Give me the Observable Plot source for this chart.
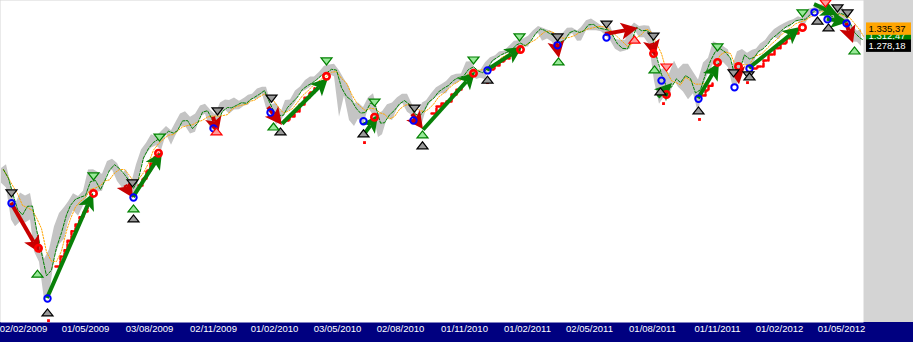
<!DOCTYPE html>
<html><head><meta charset="utf-8">
<script src="https://cdn.jsdelivr.net/npm/d3@7"></script>
<script src="https://cdn.jsdelivr.net/npm/@observablehq/plot@0.6"></script>
<style>
html,body{margin:0;padding:0;background:#fff;}
#chart svg{display:block;font-family:"Liberation Sans",Arial,sans-serif;background:linear-gradient(to bottom,#d4d4d4 0,#d4d4d4 322px,#000080 322px,#000080 342px);}
</style></head><body><div id="chart"></div>
<script>
// weekly bars (trading-day index of each week's last session)
const wkIdx = [0,5,10,14,19,24,29,33,38,43,48,53,58,63,67,72,77,82,87,92,97,101,106,111,116,121,125,130,135,140,145,150,155,160,165,170,174,179,184,189,194,199,204,209,214,219,224,228,233,238,243,247,251,
256,261,265,270,275,280,284,289,294,299,304,309,313,318,323,328,333,338,343,348,353,357,362,367,372,377,381,386,391,396,401,406,411,416,421,425,430,435,440,445,450,455,460,465,470,475,479,484,489,494,498,503,
508,513,517,522,527,532,537,541,546,551,556,561,566,571,576,580,585,590,595,600,605,609,614,619,624,629,633,638,643,648,653,658,663,668,673,677,682,687,692,697,702,707,712,717,722,727,731,736,741,746,751,755,
759,764,768,773,778,783,788,792,797,802,807,812,817,821,826,831,836,841,846,851,856,860];
const wkLow = [899,888,818,804,814,812,818,754,734,667,672,742,768,779,814,838,826,848,875,878,879,881,920,930,903,888,895,869,875,940,968,984,990,978,1019,991,1014,1038,1041,1020,1025,1066,1073,1033,1029,1072,1085,1073,1085,1086,1096,1098,1114,
1116,1130,1090,1071,1045,1056,1075,1086,1105,1134,1141,1150,1165,1175,1190,1188,1182,1065,1125,1056,1040,1060,1042,1090,1070,1011,1018,1062,1056,1088,1105,1079,1069,1040,1049,1088,1108,1122,1131,1131,1156,1160,1171,1180,1194,1173,1177,1173,1221,1232,1245,1250,
1257,1262,1275,1276,1275,1310,1320,1294,1302,1291,1249,1280,1305,1320,1294,1295,1330,1330,1330,1326,1311,1296,1268,1258,1262,1269,1334,1306,1306,1282,1168,1101,1122,1121,1170,1150,1136,1114,1131,1075,1155,1191,1220,1215,1226,1209,1158,1158,1231,1209,1202,1248,
1258,1275,1290,1307,1300,1337,1340,1357,1363,1340,1370,1388,1391,1397,1357,1357,1358,1367,1343,1292,1291,1277];
const wkHigh = [934,943,891,852,877,870,876,827,779,740,758,804,832,845,857,875,869,881,930,931,924,920,951,956,946,922,931,898,943,979,996,1018,1013,1027,1040,1029,1049,1074,1080,1065,1073,1096,1101,1085,1072,1105,1113,1112,1119,1110,1118,1127,1130,
1145,1150,1150,1100,1104,1081,1112,1113,1139,1151,1170,1181,1181,1195,1214,1218,1220,1200,1173,1150,1104,1105,1092,1120,1131,1075,1080,1100,1105,1120,1130,1130,1100,1070,1105,1111,1131,1149,1158,1167,1184,1189,1190,1227,1228,1200,1200,1225,1241,1247,1259,1262,
1278,1294,1296,1302,1311,1330,1344,1339,1332,1326,1301,1319,1338,1339,1329,1341,1364,1370,1359,1347,1334,1346,1300,1298,1298,1341,1356,1344,1347,1345,1307,1199,1208,1190,1230,1205,1220,1220,1195,1172,1224,1239,1293,1285,1277,1266,1213,1260,1267,1255,1265,1269,
1285,1297,1315,1334,1345,1355,1363,1368,1378,1372,1405,1409,1420,1422,1395,1392,1406,1415,1373,1345,1328,1335];
const wkClose = [931,890,850,832,826,869,827,770,735,683,756,768,816,842,857,869,866,877,929,882,887,919,940,946,921,918,896,879,940,979,987,1010,1004,1026,1029,1016,1042,1068,1044,1025,1071,1087,1079,1036,1069,1093,1091,1091,1105,1106,1102,1127,1115,
1145,1136,1091,1074,1066,1075,1109,1105,1138,1150,1160,1167,1178,1194,1192,1217,1187,1111,1136,1088,1089,1064,1092,1117,1076,1022,1078,1065,1103,1101,1122,1079,1071,1065,1104,1110,1125,1148,1146,1165,1176,1183,1183,1225,1199,1199,1189,1224,1240,1244,1257,1258,
1272,1293,1283,1276,1310,1329,1343,1320,1321,1304,1279,1314,1332,1328,1320,1337,1363,1340,1338,1333,1331,1300,1271,1271,1268,1339,1344,1316,1345,1292,1199,1179,1124,1177,1174,1154,1216,1136,1131,1155,1224,1238,1285,1253,1263,1216,1159,1244,1255,1219,1265,1258,
1278,1289,1315,1316,1345,1343,1361,1366,1370,1370,1404,1397,1408,1398,1370,1379,1403,1369,1353,1295,1318,1278];

// trailing stop (red dashes)
const stopGroup = ["A","A","A","A","A","A","A","A","A","B","B","B","B","B","B","C","C","C","C","C","C","C","D","D","D","D","D","D","D","E","E","E","E","E","E","E","F","F","F","F","G","G","G","G","G","G","G","G","G"];
const stopIdx = [52,57,61,64,68,72,76,80,84, 135,139,143,147,151,155, 281,286,291,296,301,306,311, 428,433,438,443,448,453,458, 486,491,496,501,506,511,516, 699,702,705,709, 749,754,760,765,771,777,783,789,795];
const stopValue = [726,745,757,776,795,809,824,836,849, 894,910,929,946,961,973, 1056,1067,1081,1100,1120,1135,1147, 1075,1095,1103,1109,1129,1143,1149, 1204,1216,1229,1238,1248,1258,1267, 1126,1141,1155,1161, 1207,1213,1232,1251,1271,1287,1304,1320,1331];
const stopDotIdx = [45,361,484,660,696,744];
const stopDotValue = [632,998,1164,1103,1059,1164];

// signal markers
const grayDownIdx = [8,129,214,268,411,554,603,650,730,745,834,844];
const grayDownVal = [876,899,1081,1117,1089,1307,1351,1310,1192,1186,1408,1390];
const grayUpIdx = [44,130,277,360,419,484,657,695,746,814,825];
const grayUpVal = [645.5,821.5,1027,1022,991,1173,1138,1084,1183,1365,1341];
const greenDownIdx = [90,156,323,371,470,516,714,799];
const greenDownVal = [915,1011,1229,1106,1232,1307,1274,1390];
const greenUpIdx = [34,130,270,419,555,651,851];
const greenUpVal = [713,843,1040,1019,1229,1204,1264];
const redDownIdx = [663,822];
const redDownVal = [1210,1426];
const redUpIdx = [213,631];
const redUpVal = [1027,1300];
const blueIdx = [8,44,130,210,267,360,410,484,554,603,658,695,731,746,811,824,843];
const blueVal = [854,669,867,1035,1078,1054,1056,1201,1281,1307,1170,1117,1150,1207,1394,1369,1355];
const redRingIdx = [35,90,155,323,371,470,517,650,663,714,735,799];
const redRingVal = [761,876,971,1183,1065,1192,1267,1254,1129,1226,1213,1341];

// arrows
const greenFromIdx = [44,130,279,362,420,484,655,695,746,811,824];
const greenFromVal = [669,867,1046,1022,1030,1201,1120,1117,1207,1422,1369];
const greenToIdx = [90,159,325,375,472,519,669,716,797,835,845];
const greenToVal = [876,973,1176,1070,1195,1274,1161,1223,1341,1383,1358];
const redFromIdx = [8,122,210,265,409,553,602,649,734,843];
const redFromVal = [854,894,1065,1092,1073,1290,1317,1287,1201,1355];
const redToIdx = [37,130,215,279,420,556,635,652,736,850];
const redToVal = [751,865,1019,1043,1032,1238,1337,1242,1158,1287];

// axis
const tickIdx = [20,82,146,210,271,334,397,461,524,586,649,714,776,838];
const tickLabels = ["02/02/2009","01/05/2009","03/08/2009","02/11/2009","01/02/2010","03/05/2010","02/08/2010","01/11/2010","01/02/2011","02/05/2011","01/08/2011","01/11/2011","01/02/2012","01/05/2012"];
const lastIdx = 860;
const lastValues = [1312.47, 1335.37, 1278.18];
const lastTexts = ["1.312,47", "1.335,37", "1.278,18"];
const lastBox = ["#008000", "#ffa500", "#000000"];
const lastInk = ["#ffffff", "#000000", "#ffffff"];

const bars = wkIdx.map((i, k) => ({i, lo: wkLow[k], hi: wkHigh[k], cl: wkClose[k]}));
const stops = stopIdx.map((i, k) => ({i, v: stopValue[k], g: stopGroup[k]}));
const pts = (I, V) => I.map((i, k) => ({i, v: V[k]}));
const arrows = (I1, V1, I2, V2) => I1.map((i, k) => ({i1: i, v1: V1[k], i2: I2[k], v2: V2[k]}));

const triDown = {draw(ctx, size) { const r = Math.sqrt(size / Math.PI), w = r * 1.1, h = r * 0.7; ctx.moveTo(-w, -h); ctx.lineTo(w, -h); ctx.lineTo(0, h); ctx.closePath(); }};
const triUp = {draw(ctx, size) { const r = Math.sqrt(size / Math.PI), w = r * 1.1, h = r * 0.7; ctx.moveTo(-w, h); ctx.lineTo(w, h); ctx.lineTo(0, -h); ctx.closePath(); }};

function arrowMark(list, color) {
  return (index, scales) => {
    const g = d3.create("svg:g");
    for (const a of list) {
      const x1 = scales.x(a.i1), y1 = scales.y(a.v1), x2 = scales.x(a.i2), y2 = scales.y(a.v2);
      const dx = x2 - x1, dy = y2 - y1, len = Math.hypot(dx, dy) || 1;
      const ux = dx / len, uy = dy / len, px = -uy, py = ux;
      const L = 17, W = 8.5, N = 4;
      const bx = x2 - ux * L, by = y2 - uy * L;
      if (len > L - N) g.append("line").attr("x1", x1).attr("y1", y1).attr("x2", bx + ux * N).attr("y2", by + uy * N)
        .attr("stroke", color).attr("stroke-width", 4);
      g.append("path").attr("fill", color)
        .attr("d", `M${x2},${y2}L${bx + px * W},${by + py * W}L${bx + ux * N},${by + uy * N}L${bx - px * W},${by - py * W}Z`);
    }
    return g.node();
  };
}

const labelMarks = lastValues.map((v, k) => Plot.text([v], {
  x: () => lastIdx, y: d => d, text: () => lastTexts[k], dx: 5, textAnchor: "start",
  fill: lastInk[k], fontSize: 9.5
}));

const chart = Plot.plot({
  width: 913, height: 342,
  marginLeft: 0, marginRight: 50, marginTop: 0, marginBottom: 20,
  x: {domain: [-3, 860], axis: null},
  y: {type: "log", domain: [629, 1437], axis: null},
  marks: [
    Plot.frame({fill: "white", stroke: "none"}),
    Plot.areaY(bars, {x: "i", y1: "lo", y2: "hi", fill: "#c4c4c4", dx: -2}),
    Plot.line(stops, {x: "i", y: "v", z: "g", curve: "step-after", stroke: "#ff0000", strokeWidth: 2.5, strokeDasharray: "4,2"}),
    Plot.dot(pts(stopDotIdx, stopDotValue), {x: "i", y: "v", symbol: "square", r: 1.6, fill: "#ff0000"}),
    Plot.line(bars, Plot.windowY({k: 4, anchor: "end", reduce: "mean"}, {x: "i", y: "cl", stroke: "#ffa500", strokeWidth: 1, strokeDasharray: "1.5,1.5"})),
    Plot.line(bars, Plot.windowY({k: 2, anchor: "end", reduce: "mean"}, {x: "i", y: "cl", stroke: "#008000", strokeWidth: 1, strokeDasharray: "3,1.5"})),
    arrowMark(arrows(redFromIdx, redFromVal, redToIdx, redToVal), "#c80000"),
    arrowMark(arrows(greenFromIdx, greenFromVal, greenToIdx, greenToVal), "#088008"),
    Plot.dot(pts(blueIdx, blueVal), {x: "i", y: "v", r: 3.2, stroke: "#0000ff", strokeWidth: 2, fill: "none"}),
    Plot.dot(pts(redRingIdx, redRingVal), {x: "i", y: "v", r: 3.2, stroke: "#ff0000", strokeWidth: 2.6, fill: "none"}),
    Plot.dot(pts(grayDownIdx, grayDownVal), {x: "i", y: "v", symbol: triDown, r: 5, fill: "#9a9a9a", stroke: "#000", strokeWidth: 1.2}),
    Plot.dot(pts(grayUpIdx, grayUpVal), {x: "i", y: "v", symbol: triUp, r: 5, fill: "#9a9a9a", stroke: "#000", strokeWidth: 1.2}),
    Plot.dot(pts(greenDownIdx, greenDownVal), {x: "i", y: "v", symbol: triDown, r: 5, fill: "#98e898", stroke: "#008000", strokeWidth: 1.2}),
    Plot.dot(pts(greenUpIdx, greenUpVal), {x: "i", y: "v", symbol: triUp, r: 5, fill: "#98e898", stroke: "#008000", strokeWidth: 1.2}),
    Plot.dot(pts(redDownIdx, redDownVal), {x: "i", y: "v", symbol: triDown, r: 5, fill: "#ff9a9a", stroke: "#ff0000", strokeWidth: 1.2}),
    Plot.dot(pts(redUpIdx, redUpVal), {x: "i", y: "v", symbol: triUp, r: 5, fill: "#ff9a9a", stroke: "#ff0000", strokeWidth: 1.2}),
    Plot.text(tickIdx, {x: d => d, frameAnchor: "bottom", dy: 9.6, text: (d, k) => tickLabels[k], fill: "white", fontSize: 9.5}),
    ...labelMarks
  ]
});
document.getElementById("chart").appendChild(chart);

// boxes behind the last-value labels (sized from the rendered text, same transform)
const allTexts = Array.from(chart.querySelectorAll("text"));
lastTexts.forEach((s, k) => {
  const t = allTexts.find(e => e.textContent === s);
  if (!t) return;
  const b = t.getBBox();
  const yc = b.y + b.height / 2;
  const r = document.createElementNS("http://www.w3.org/2000/svg", "rect");
  r.setAttribute("x", b.x - 2.5); r.setAttribute("width", b.width + 8);
  r.setAttribute("y", yc - 6.2); r.setAttribute("height", 12.4);
  r.setAttribute("fill", lastBox[k]);
  const tr = t.getAttribute("transform");
  if (tr) r.setAttribute("transform", tr);
  if (t.getAttribute("x")) r.setAttribute("x", +t.getAttribute("x") + b.x - 2.5 - (+t.getAttribute("x")));
  t.parentNode.insertBefore(r, t);
});
</script></body></html>
